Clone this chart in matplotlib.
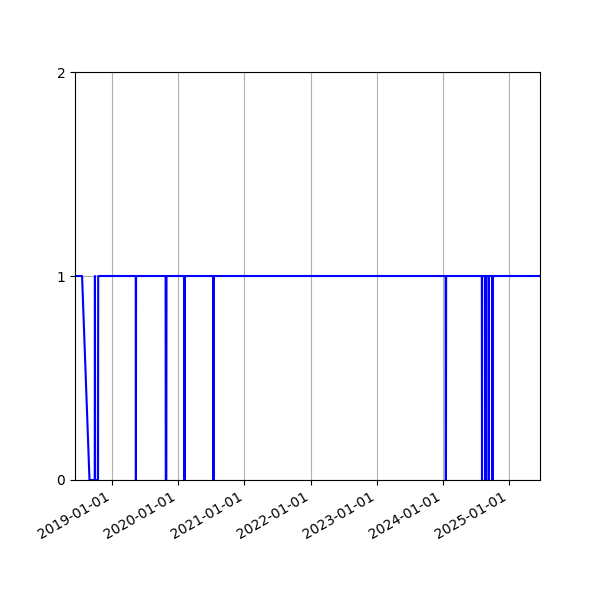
import matplotlib
matplotlib.use("Agg")
import matplotlib.pyplot as plt
import matplotlib.dates as mdates
import pandas as pd

# change points of the status series (1 = up, 0 = down)
dates = [
    "2018-06-11", "2018-07-20", "2018-08-30", "2018-09-28", "2018-09-29",
    "2018-09-30", "2018-10-16", "2018-10-17",
    "2019-05-12", "2019-05-13", "2019-05-14",
    "2019-10-24", "2019-10-25", "2019-10-28", "2019-10-29",
    "2020-02-04", "2020-02-05", "2020-02-06", "2020-02-07",
    "2020-07-13", "2020-07-14", "2020-07-15",
    "2024-01-16", "2024-01-17", "2024-01-18", "2024-01-19",
    "2024-08-03", "2024-08-04", "2024-08-05",
    "2024-08-22", "2024-08-23", "2024-08-24",
    "2024-09-09", "2024-09-10", "2024-09-11",
    "2024-09-30", "2024-10-01", "2024-10-02",
    "2025-06-20",
]
values = [
    1, 1, 0, 0, 1,
    0, 0, 1,
    1, 0, 1,
    1, 0, 0, 1,
    1, 0, 0, 1,
    1, 0, 1,
    1, 0, 0, 1,
    1, 0, 1,
    1, 0, 1,
    1, 0, 1,
    1, 0, 1,
    1,
]
yticks = [0, 1, 2]

x = pd.to_datetime(dates)

fig, ax = plt.subplots(figsize=(6, 6), dpi=100)
ax.plot(x, values, color="blue")
ax.set_xlim(x[0], x[-1])
ax.set_ylim(0, 2)
ax.set_yticks(yticks)
ax.xaxis.set_major_locator(mdates.YearLocator())
ax.xaxis.set_major_formatter(mdates.DateFormatter("%Y-%m-%d"))
ax.grid(True)
fig.autofmt_xdate()

fig.savefig("out.png")
